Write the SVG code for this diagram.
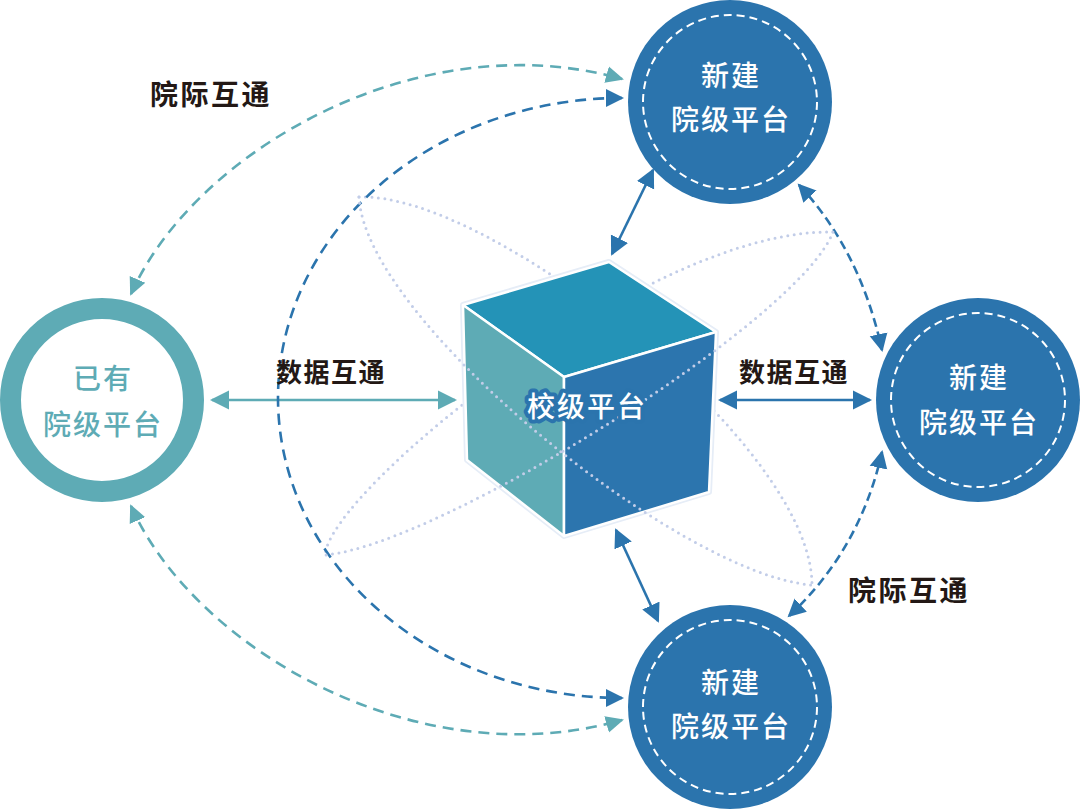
<svg xmlns="http://www.w3.org/2000/svg" width="1080" height="809" viewBox="0 0 1080 809">
<style>
.txt{font-family:"Noto Sans CJK SC","Noto Sans",sans-serif;dominant-baseline:central;text-anchor:middle}
.lbl{font-size:28px;font-weight:700;fill:#231815;letter-spacing:2.5px}
.lbl2{font-size:26px;font-weight:700;fill:#231815;letter-spacing:1.5px}
.ctext{font-size:28px;font-weight:500;fill:#ffffff;letter-spacing:2px}
.ttext{font-size:28px;font-weight:500;fill:#5eabb5;letter-spacing:2px}
.orbit{fill:none;stroke:#c2cde8;stroke-width:3;stroke-dasharray:0 6.5;stroke-linecap:round}
.bcirc{fill:#2b74ad}
.inner{fill:none;stroke:#ffffff;stroke-width:2;stroke-dasharray:8 5}
.solid-t{fill:none;stroke:#5eabb5;stroke-width:2.6}
.solid-b{fill:none;stroke:#2b74ad;stroke-width:2.6}
.dash-t{fill:none;stroke:#5eabb5;stroke-width:2.6;stroke-dasharray:11 7}
.dash-b{fill:none;stroke:#2b74ad;stroke-width:2.6;stroke-dasharray:11 7}
.dash-bs{fill:none;stroke:#2b74ad;stroke-width:2.6;stroke-dasharray:9 5}
</style>
<defs>
<marker id="ah-t" viewBox="0 -10 20 20" refX="17" refY="0" markerWidth="20" markerHeight="20" markerUnits="userSpaceOnUse" orient="auto-start-reverse"><path d="M0,-9.5 L19,0 L0,9.5 Z" fill="#5eabb5"/></marker>
<marker id="ah-b" viewBox="0 -10 20 20" refX="17" refY="0" markerWidth="20" markerHeight="20" markerUnits="userSpaceOnUse" orient="auto-start-reverse"><path d="M0,-9.5 L19,0 L0,9.5 Z" fill="#2b74ad"/></marker>
<marker id="ah-ts" viewBox="0 -10 20 20" refX="16" refY="0" markerWidth="20" markerHeight="20" markerUnits="userSpaceOnUse" orient="auto-start-reverse"><path d="M0,-8.5 L18,0 L0,8.5 Z" fill="#5eabb5"/></marker>
<marker id="ah-bs" viewBox="0 -10 20 20" refX="16" refY="0" markerWidth="20" markerHeight="20" markerUnits="userSpaceOnUse" orient="auto-start-reverse"><path d="M0,-9 L18,0 L0,9 Z" fill="#2b74ad"/></marker>
</defs>
<rect width="1080" height="809" fill="#ffffff"/>

<g id="orbits-back">
<path class="orbit" d="M359 197 C 490 192, 812 445, 812 585"/>
<path class="orbit" d="M833 232 C 650 228, 330 490, 325 555"/>
</g>

<g id="connectors">
<path class="solid-t" d="M212 400 L455 400" marker-start="url(#ah-t)" marker-end="url(#ah-t)"/>
<path class="solid-b" d="M720 400 L870 400" marker-start="url(#ah-b)" marker-end="url(#ah-b)"/>
<path class="solid-b" d="M612 254 L653 170" marker-start="url(#ah-b)" marker-end="url(#ah-b)"/>
<path class="solid-b" d="M616 530 L658 621" marker-start="url(#ah-b)" marker-end="url(#ah-b)"/>
<path class="dash-bs" d="M799 185 Q 860 250 882 350" marker-start="url(#ah-bs)" marker-end="url(#ah-bs)"/>
<path class="dash-bs" d="M882 452 Q 860 550 789 616" marker-start="url(#ah-bs)" marker-end="url(#ah-bs)"/>
<path class="dash-t" d="M131 294 C 195 150, 420 22, 622 79" marker-start="url(#ah-ts)" marker-end="url(#ah-ts)"/>
<path class="dash-t" d="M131 506 C 195 650, 420 778, 622 720" marker-start="url(#ah-ts)" marker-end="url(#ah-ts)"/>
<path class="dash-b" d="M622 98 A 344 300 0 0 0 622 698" marker-start="url(#ah-bs)" marker-end="url(#ah-bs)"/>
</g>

<g id="node-school">
<polygon points="609,262 716,332 709,492 564,536 467,460 463,305" fill="none" stroke="#e6edf7" stroke-width="6" stroke-linejoin="round"/>
<polygon points="609,262 716,332 564,377 463,305" fill="#2493b7" stroke="#ffffff" stroke-width="2.5" stroke-linejoin="round"/>
<polygon points="463,305 564,377 564,536 467,460" fill="#5eabb5" stroke="#ffffff" stroke-width="2.5" stroke-linejoin="round"/>
<polygon points="564,377 716,332 709,492 564,536" fill="#2c75ae" stroke="#ffffff" stroke-width="2.5" stroke-linejoin="round"/>
</g>

<g id="orbits-front">
<path class="orbit" d="M359 197 C 365 320, 680 575, 812 585"/>
<path class="orbit" d="M833 232 C 800 320, 440 545, 325 555"/>
</g>

<g id="school-label">
<text class="txt" x="587" y="405" font-size="28" font-weight="500" fill="#ffffff" stroke="#2b74ad" stroke-width="8" stroke-linejoin="round" paint-order="stroke" letter-spacing="2">校级平台</text>
</g>

<g id="node-existing">
<circle cx="102" cy="400" r="91.5" fill="#ffffff" stroke="#5eabb5" stroke-width="21"/>
<text class="txt ttext" x="103" y="377">已有</text>
<text class="txt ttext" x="103" y="423">院级平台</text>
</g>

<g id="node-new-top">
<circle class="bcirc" cx="730" cy="102" r="102"/>
<circle class="inner" cx="730" cy="102" r="87"/>
<text class="txt ctext" x="731" y="74">新建</text>
<text class="txt ctext" x="731" y="118">院级平台</text>
</g>

<g id="node-new-right">
<circle class="bcirc" cx="978" cy="400" r="102"/>
<circle class="inner" cx="978" cy="400" r="87"/>
<text class="txt ctext" x="979" y="376">新建</text>
<text class="txt ctext" x="979" y="421">院级平台</text>
</g>

<g id="node-new-bottom">
<circle class="bcirc" cx="730" cy="707" r="102"/>
<circle class="inner" cx="730" cy="707" r="87"/>
<text class="txt ctext" x="731" y="681">新建</text>
<text class="txt ctext" x="731" y="725">院级平台</text>
</g>

<g id="labels">
<text class="txt lbl" x="211" y="93">院际互通</text>
<text class="txt lbl" x="909" y="589">院际互通</text>
<text class="txt lbl2" x="331" y="370">数据互通</text>
<text class="txt lbl2" x="794" y="370">数据互通</text>
</g>
</svg>
